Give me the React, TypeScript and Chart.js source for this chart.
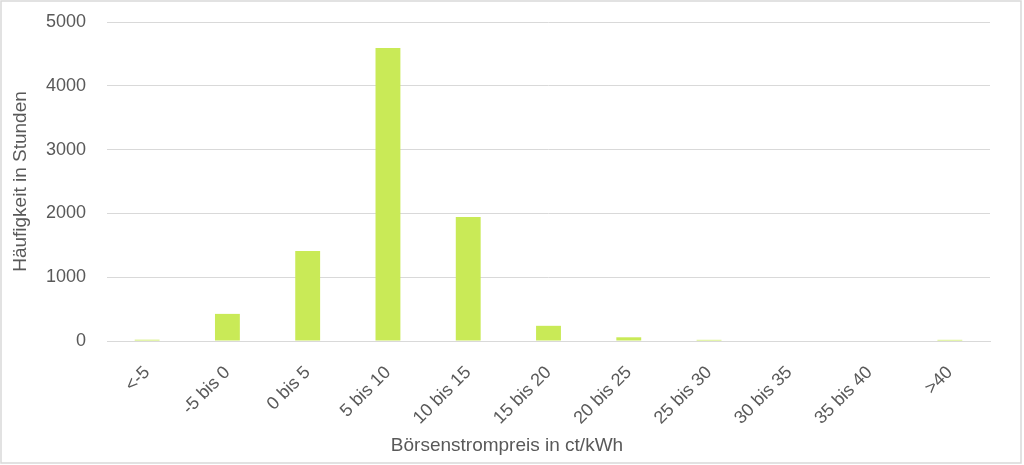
import React, { useEffect, useRef } from "react";
import { Chart, registerables } from "chart.js";

Chart.register(...registerables);

const categories = ["<-5", "-5 bis 0", "0 bis 5", "5 bis 10", "10 bis 15", "15 bis 20", "20 bis 25", "25 bis 30", "30 bis 35", "35 bis 40", ">40"];
const hours = [20, 425, 1411, 4592, 1942, 238, 58, 18, 0, 0, 18];
const yTicks = [0, 1000, 2000, 3000, 4000, 5000];
const xTitle = "Börsenstrompreis in ct/kWh";
const yTitle = "Häufigkeit in Stunden";

const textColor = "#595959";
const gridColor = "#d9d9d9";
const barColor = "#c9ea57";
const fontFamily = "'Liberation Sans', Arial, sans-serif";

export default function App() {
  const ref = useRef<HTMLCanvasElement | null>(null);

  useEffect(() => {
    document.body.style.margin = "0";
    const canvas = ref.current;
    if (!canvas) return;

    const framePlugin = {
      id: "frame",
      beforeDraw(chart: any) {
        const { ctx, width, height } = chart;
        ctx.save();
        ctx.fillStyle = "#ffffff";
        ctx.fillRect(0, 0, width, height);
        ctx.restore();
      },
      afterDraw(chart: any) {
        const { ctx } = chart;
        ctx.save();
        ctx.strokeStyle = gridColor;
        ctx.lineWidth = 1.5;
        ctx.strokeRect(1, 1, 1020, 462);
        ctx.fillStyle = textColor;
        ctx.font = `19px ${fontFamily}`;
        ctx.textAlign = "center";
        ctx.textBaseline = "middle";
        ctx.fillText(xTitle, 507, 446);
        ctx.restore();
      },
    };

    const chart = new Chart(canvas, {
      type: "bar",
      data: {
        labels: categories,
        datasets: [
          {
            data: hours,
            backgroundColor: barColor,
            borderWidth: 0,
            categoryPercentage: 1,
            barPercentage: 0.31,
          },
        ],
      },
      options: {
        animation: false,
        responsive: false,
        devicePixelRatio: 1,
        layout: { padding: { left: 0, top: 22, right: 34, bottom: 0 } },
        plugins: { legend: { display: false }, tooltip: { enabled: false } },
        scales: {
          x: {
            grid: { display: false, drawTicks: false },
            border: { display: true, color: gridColor, width: 1 },
            ticks: {
              color: textColor,
              font: { size: 18, family: fontFamily },
              maxRotation: 45,
              minRotation: 45,
              padding: 21,
              autoSkip: false,
            },
            afterFit(scale: any) {
              scale.height = 465 - 341;
            },
          },
          y: {
            min: 0,
            max: 5000,
            afterBuildTicks(scale: any) {
              scale.ticks = yTicks.map((v) => ({ value: v }));
            },
            grid: { color: gridColor, drawTicks: false, lineWidth: 1 },
            border: { display: false },
            ticks: {
              color: textColor,
              font: { size: 18, family: fontFamily },
              padding: 21,
              callback: (v: any) => String(v),
            },
            title: {
              display: true,
              text: yTitle,
              color: textColor,
              font: { size: 19, family: fontFamily, weight: "normal" },
              padding: { top: 9, bottom: 0 },
            },
            afterFit(scale: any) {
              scale.width = 107;
              scale.paddingTop = 0;
              scale.paddingBottom = 0;
            },
          },
        },
      },
      plugins: [framePlugin],
    });

    return () => chart.destroy();
  }, []);

  return (
    <div style={{ width: 1024, height: 465, position: "relative" }}>
      <canvas ref={ref} width={1024} height={465} style={{ display: "block", width: 1024, height: 465 }} />
    </div>
  );
}
